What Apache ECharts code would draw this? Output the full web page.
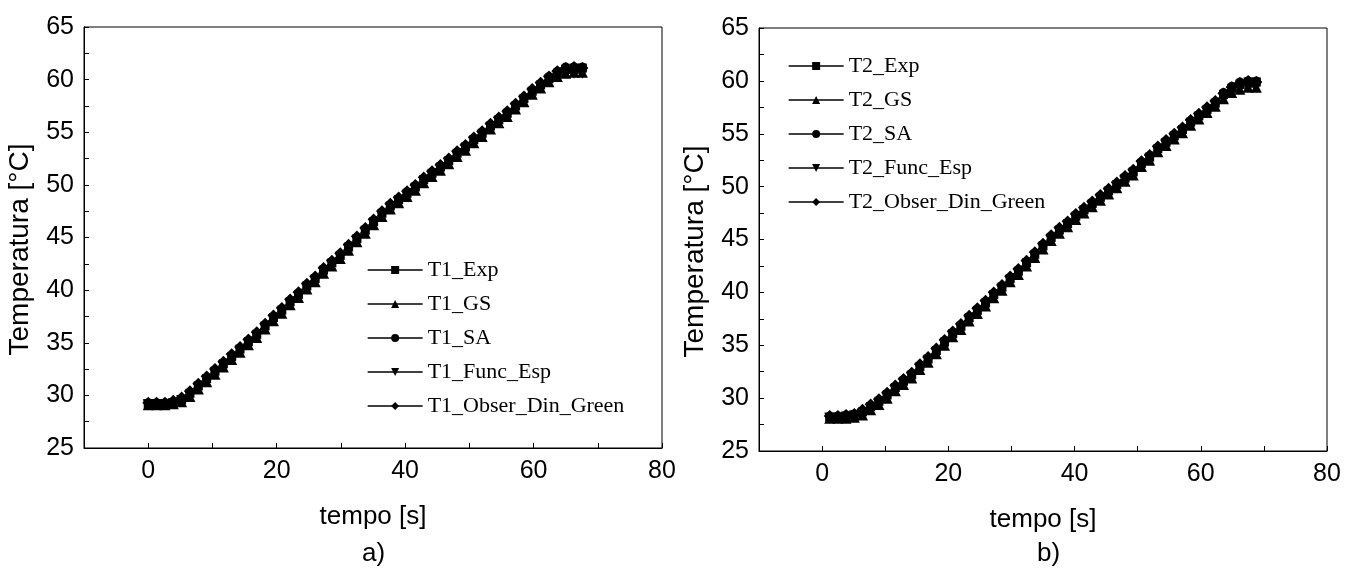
<!DOCTYPE html>
<html>
<head>
<meta charset="utf-8">
<title>Temperatura x tempo</title>
<script src="https://cdn.jsdelivr.net/npm/echarts@6.0.0/dist/echarts.min.js"></script>
<style>
    html, body { margin: 0; padding: 0; background: #fff; }
    #chart_main { width: 1353px; height: 568px; }
</style>
</head>
<body>
<div id="chart_main"></div>
<script>
// tempo [s]
let time_a = [0, 1.3, 2.6, 3.9, 5.2, 6.5, 7.8, 9.1, 10.4, 11.7, 13, 14.3, 15.6, 16.9, 18.2, 19.5, 20.8, 22.1, 23.4, 24.7,
    26, 27.3, 28.6, 29.9, 31.2, 32.5, 33.8, 35.1, 36.4, 37.7, 39, 40.3, 41.6, 42.9, 44.2, 45.5, 46.8, 48.1, 49.4, 50.7,
    52, 53.3, 54.6, 55.9, 57.2, 58.5, 59.8, 61.1, 62.4, 63.7, 65, 66.3, 67.6];
let time_b = [1.2, 2.5, 3.8, 5.1, 6.4, 7.7, 9, 10.3, 11.6, 12.9, 14.2, 15.5, 16.8, 18.1, 19.4, 20.7, 22, 23.3, 24.6, 25.9,
    27.2, 28.5, 29.8, 31.1, 32.4, 33.7, 35, 36.3, 37.6, 38.9, 40.2, 41.5, 42.8, 44.1, 45.4, 46.7, 48, 49.3, 50.6, 51.9,
    53.2, 54.5, 55.8, 57.1, 58.4, 59.7, 61, 62.3, 63.6, 64.9, 66.2, 67.5, 68.8];

// a) sensor T1
let T1_Exp = [29.2, 29.2, 29.2, 29.3, 29.6, 30.2, 30.9, 31.6, 32.3, 33.0,
    33.7, 34.4, 35.1, 35.8, 36.6, 37.4, 38.1, 38.9, 39.6, 40.4,
    41.1, 41.9, 42.6, 43.3, 44.1, 44.9, 45.7, 46.5, 47.3, 48.0,
    48.6, 49.2, 49.8, 50.5, 51.1, 51.7, 52.3, 53.0, 53.6, 54.3,
    54.9, 55.6, 56.2, 56.8, 57.5, 58.2, 58.9, 59.5, 60.1, 60.6,
    61.0, 61.1, 61.1];
let T1_GS = [29.1, 29.1, 29.1, 29.2, 29.4, 29.9, 30.6, 31.3, 32.0, 32.7,
    33.4, 34.1, 34.8, 35.5, 36.3, 37.1, 37.8, 38.6, 39.3, 40.1,
    40.8, 41.6, 42.3, 43.0, 43.8, 44.6, 45.4, 46.2, 47.0, 47.7,
    48.3, 48.9, 49.5, 50.2, 50.8, 51.4, 52.0, 52.7, 53.3, 54.0,
    54.6, 55.3, 55.9, 56.5, 57.2, 57.9, 58.6, 59.2, 59.8, 60.3,
    60.6, 60.7, 60.7];
let T1_SA = [29.3, 29.3, 29.3, 29.4, 29.7, 30.3, 31.0, 31.7, 32.4, 33.1,
    33.8, 34.5, 35.2, 35.9, 36.7, 37.5, 38.2, 39.0, 39.7, 40.5,
    41.2, 42.0, 42.7, 43.4, 44.2, 45.0, 45.8, 46.6, 47.4, 48.1,
    48.7, 49.3, 49.9, 50.6, 51.2, 51.8, 52.4, 53.1, 53.7, 54.4,
    55.0, 55.7, 56.3, 56.9, 57.6, 58.3, 59.0, 59.6, 60.3, 60.8,
    61.2, 61.2, 61.2];
let T1_Func_Esp = [29.1, 29.1, 29.1, 29.2, 29.5, 30.0, 30.7, 31.4, 32.1, 32.8,
    33.5, 34.2, 34.9, 35.6, 36.4, 37.2, 37.9, 38.7, 39.4, 40.2,
    40.9, 41.7, 42.4, 43.1, 43.9, 44.7, 45.5, 46.3, 47.1, 47.8,
    48.4, 49.0, 49.6, 50.3, 50.9, 51.5, 52.1, 52.8, 53.4, 54.1,
    54.7, 55.4, 56.0, 56.6, 57.3, 58.0, 58.7, 59.3, 59.9, 60.4,
    60.6, 60.6, 60.6];
let T1_Obser_Din_Green = [29.3, 29.3, 29.3, 29.5, 29.8, 30.4, 31.1, 31.8, 32.5, 33.2,
    33.9, 34.6, 35.3, 36.0, 36.8, 37.6, 38.3, 39.1, 39.8, 40.6,
    41.3, 42.1, 42.8, 43.5, 44.3, 45.1, 45.9, 46.7, 47.5, 48.2,
    48.8, 49.4, 50.0, 50.7, 51.3, 51.9, 52.5, 53.2, 53.8, 54.5,
    55.1, 55.8, 56.4, 57.0, 57.7, 58.4, 59.1, 59.7, 60.3, 60.8,
    61.1, 61.2, 61.1];

// b) sensor T2
let T2_Exp = [28.2, 28.2, 28.3, 28.4, 28.7, 29.2, 29.7, 30.3, 31.0, 31.6,
    32.2, 33.0, 33.7, 34.5, 35.3, 36.1, 36.8, 37.6, 38.3, 39.0,
    39.8, 40.5, 41.3, 42.0, 42.8, 43.6, 44.4, 45.2, 45.9, 46.5,
    47.2, 47.8, 48.4, 49.0, 49.6, 50.2, 50.8, 51.4, 52.2, 52.8,
    53.6, 54.2, 54.8, 55.4, 56.1, 56.7, 57.3, 57.9, 58.7, 59.3,
    59.7, 59.9, 59.9];
let T2_GS = [28.1, 28.1, 28.1, 28.2, 28.4, 28.9, 29.4, 30.0, 30.7, 31.3,
    31.9, 32.7, 33.4, 34.2, 35.0, 35.8, 36.5, 37.3, 38.0, 38.7,
    39.5, 40.2, 41.0, 41.7, 42.5, 43.3, 44.1, 44.9, 45.6, 46.2,
    46.9, 47.5, 48.1, 48.7, 49.3, 49.9, 50.5, 51.1, 51.9, 52.5,
    53.3, 53.9, 54.5, 55.1, 55.8, 56.4, 57.0, 57.6, 58.3, 58.9,
    59.2, 59.4, 59.4];
let T2_SA = [28.3, 28.3, 28.4, 28.5, 28.8, 29.3, 29.8, 30.4, 31.1, 31.7,
    32.3, 33.1, 33.8, 34.6, 35.4, 36.2, 36.9, 37.7, 38.4, 39.1,
    39.9, 40.6, 41.4, 42.1, 42.9, 43.7, 44.5, 45.3, 46.0, 46.6,
    47.3, 47.9, 48.5, 49.1, 49.7, 50.3, 50.9, 51.5, 52.3, 52.9,
    53.7, 54.3, 54.9, 55.5, 56.2, 56.8, 57.4, 58.0, 58.9, 59.5,
    59.9, 60.0, 60.0];
let T2_Func_Esp = [28.1, 28.1, 28.2, 28.3, 28.5, 29.0, 29.5, 30.1, 30.8, 31.4,
    32.0, 32.8, 33.5, 34.3, 35.1, 35.9, 36.6, 37.4, 38.1, 38.8,
    39.6, 40.3, 41.1, 41.8, 42.6, 43.4, 44.2, 45.0, 45.7, 46.3,
    47.0, 47.6, 48.2, 48.8, 49.4, 50.0, 50.6, 51.2, 52.0, 52.6,
    53.4, 54.0, 54.6, 55.2, 55.9, 56.5, 57.1, 57.7, 58.4, 59.0,
    59.3, 59.5, 59.4];
let T2_Obser_Din_Green = [28.3, 28.3, 28.4, 28.5, 28.9, 29.4, 29.9, 30.5, 31.2, 31.8,
    32.4, 33.2, 33.9, 34.7, 35.5, 36.3, 37.0, 37.8, 38.5, 39.2,
    40.0, 40.7, 41.5, 42.2, 43.0, 43.8, 44.6, 45.4, 46.1, 46.7,
    47.4, 48.0, 48.6, 49.2, 49.8, 50.4, 51.0, 51.6, 52.4, 53.0,
    53.8, 54.4, 55.0, 55.6, 56.3, 56.9, 57.5, 58.1, 58.8, 59.4,
    59.8, 60.0, 59.9];

let names_a = ['T1_Exp', 'T1_GS', 'T1_SA', 'T1_Func_Esp', 'T1_Obser_Din_Green'];
let names_b = ['T2_Exp', 'T2_GS', 'T2_SA', 'T2_Func_Esp', 'T2_Obser_Din_Green'];
let values_a = [T1_Exp, T1_GS, T1_SA, T1_Func_Esp, T1_Obser_Din_Green];
let values_b = [T2_Exp, T2_GS, T2_SA, T2_Func_Esp, T2_Obser_Din_Green];

// quadrado, triangulo, circulo, triangulo invertido, losango
let symbols = ['rect', 'triangle', 'circle', 'path://M0,0 L10,0 L5,10 Z', 'diamond'];
let symbolSizes = [9, 11, 9, 11, 12];

let sansFont = "'Liberation Sans', Arial, sans-serif";
let serifFont = "'Liberation Serif', 'Times New Roman', serif";

function makeSeries(names, values, time, idx) {
    let list = [];
    for (let i = 0; i < names.length; i++) {
        let pts = [];
        for (let k = 0; k < time.length; k++) {
            pts.push([time[k], values[i][k]]);
        }
        list.push({
            name: names[i],
            type: 'line',
            xAxisIndex: idx,
            yAxisIndex: idx,
            data: pts,
            symbol: symbols[i],
            symbolSize: symbolSizes[i],
            showAllSymbol: true,
            lineStyle: {color: '#000', width: 1},
            itemStyle: {color: '#000'},
            emphasis: {disabled: true}
        });
    }
    return list;
}

function xAxisCfg(idx) {
    return {
        type: 'value',
        gridIndex: idx,
        min: -10,
        max: 80,
        interval: 10,
        name: 'tempo [s]',
        nameLocation: 'middle',
        nameGap: 56,
        nameTextStyle: {color: '#000', fontFamily: sansFont, fontSize: 26},
        axisLine: {onZero: false, lineStyle: {color: '#000', width: 1}},
        axisTick: {inside: true, length: 5, lineStyle: {color: '#000'}},
        axisLabel: {
            color: '#000', fontFamily: sansFont, fontSize: 25, margin: 11,
            formatter: function (v) { return v % 20 === 0 ? String(v) : ''; }
        },
        splitLine: {show: false}
    };
}

function yAxisCfg(idx) {
    return {
        type: 'value',
        gridIndex: idx,
        min: 25,
        max: 65,
        interval: 5,
        name: 'Temperatura [°C]',
        nameLocation: 'middle',
        nameGap: 50,
        nameTextStyle: {color: '#000', fontFamily: sansFont, fontSize: 28, padding: [0, 24, 0, 0]},
        axisLine: {onZero: false, lineStyle: {color: '#000', width: 1}},
        axisTick: {inside: true, length: 5, lineStyle: {color: '#000'}},
        minorTick: {show: true, splitNumber: 2, length: 5, lineStyle: {color: '#000'}},
        axisLabel: {color: '#000', fontFamily: sansFont, fontSize: 25, margin: 10},
        splitLine: {show: false}
    };
}

function legendCfg(names, left, top) {
    return {
        data: names,
        orient: 'vertical',
        left: left,
        top: top,
        itemWidth: 55,
        itemHeight: 10,
        itemGap: 10,
        lineStyle: {width: 1.3, color: '#000'},
        textStyle: {color: '#000', fontFamily: serifFont, fontSize: 22, lineHeight: 24}
    };
}

let myChart = echarts.init(document.getElementById('chart_main'));
let option = {
    animation: false,
    backgroundColor: '#fff',
    grid: [
        {left: 84, top: 27, width: 578, height: 421, show: true, borderColor: '#000', borderWidth: 1},
        {left: 759, top: 28, width: 568, height: 423, show: true, borderColor: '#000', borderWidth: 1}
    ],
    xAxis: [xAxisCfg(0), xAxisCfg(1)],
    yAxis: [yAxisCfg(0), yAxisCfg(1)],
    legend: [legendCfg(names_a, 362, 253), legendCfg(names_b, 783, 49)],
    graphic: [
        {type: 'text', left: 362, top: 541, style: {text: 'a)', fontFamily: sansFont, fontSize: 26, fill: '#000'}},
        {type: 'text', left: 1037, top: 541, style: {text: 'b)', fontFamily: sansFont, fontSize: 26, fill: '#000'}}
    ],
    series: makeSeries(names_a, values_a, time_a, 0).concat(makeSeries(names_b, values_b, time_b, 1))
};
myChart.setOption(option);
</script>
</body>
</html>
